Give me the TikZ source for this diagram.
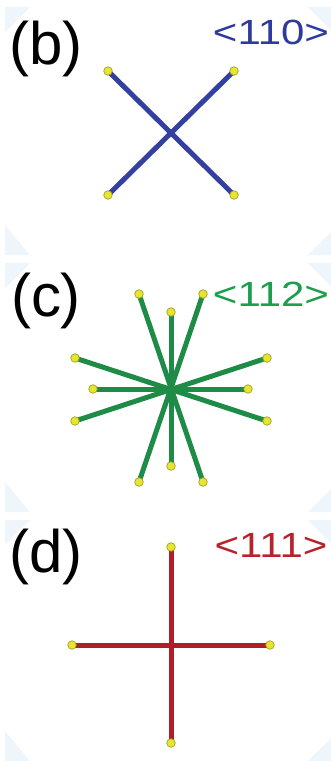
\documentclass[tikz,border=0pt]{standalone}
\usepackage{fontspec}
\setmainfont{Liberation Sans}
\usepackage{graphicx}
\definecolor{cblue}{HTML}{3340A2}
\definecolor{lblue}{HTML}{2E3A9E}
\definecolor{cgreen}{HTML}{1E8C46}
\definecolor{lgreen}{HTML}{1C9E4C}
\definecolor{cred}{HTML}{B01E2A}
\definecolor{lred}{HTML}{B8222C}
\definecolor{dotyel}{HTML}{E8E62C}
\definecolor{dotedge}{HTML}{A0A028}
\definecolor{corner}{HTML}{EEF6FC}
\tikzset{
  dot/.style={circle,fill=dotyel,draw=dotedge,line width=0.7pt,inner sep=0pt,minimum size=8.5pt},
  rod/.style={line width=5pt},
  panellabel/.style={inner sep=0pt,font=\fontsize{60}{60}\selectfont},
  dirlabel/.style={inner sep=0pt,font=\fontsize{35}{35}\selectfont},
  cornerfill/.style={fill=corner,draw=none}
}
\begin{document}
\begin{tikzpicture}[x=1pt,y=-1pt]
\useasboundingbox (0,0) rectangle (331,761);
\fill[white] (0,0) rectangle (331,761);
% corner tints
\foreach \t/\b in {7/255,263/512,520/761}{
  \fill[cornerfill] (5,\t) -- (30,\t) -- (5,\t+25) -- cycle;
  \fill[cornerfill] (331,\t) -- (308,\t) -- (331,\t+23) -- cycle;
  \fill[cornerfill] (5,\b) -- (30,\b) -- (5,\b-30) -- cycle;
  \fill[cornerfill] (331,\b) -- (308,\b) -- (331,\b-23) -- cycle;
}
% ---------- panel (b) ----------
\node[panellabel] (lb) at (46,49) {(b)};
\node[dirlabel,text=lblue] (db) at (271,32) {\scalebox{1.2}[1]{<110>}};
\coordinate (b0) at (171,133);
\coordinate (b1) at (108,71);
\coordinate (b2) at (234,71);
\coordinate (b3) at (108,195);
\coordinate (b4) at (234,195);
\draw[rod,cblue] (b1) -- (b4);
\draw[rod,cblue] (b2) -- (b3);
\foreach \p in {b1,b2,b3,b4} \node[dot] (n\p) at (\p) {};
% ---------- panel (c) ----------
\node[panellabel] (lc) at (46,301) {(c)};
\node[dirlabel,text=lgreen] (dc) at (271,294) {\scalebox{1.2}[1]{<112>}};
\coordinate (c0) at (171,388);
\coordinate (c1) at (139,294);
\coordinate (c2) at (203,294);
\coordinate (c3) at (171,312);
\coordinate (c4) at (171,466);
\coordinate (c5) at (139,482);
\coordinate (c6) at (203,482);
\coordinate (c7) at (75,358);
\coordinate (c8) at (93,389);
\coordinate (c9) at (75,421);
\coordinate (c10) at (267,358);
\coordinate (c11) at (248,389);
\coordinate (c12) at (267,421);
\draw[rod,cgreen] (c1) -- (c6);
\draw[rod,cgreen] (c2) -- (c5);
\draw[rod,cgreen] (c3) -- (c4);
\draw[rod,cgreen] (c7) -- (c12);
\draw[rod,cgreen] (c8) -- (c11);
\draw[rod,cgreen] (c9) -- (c10);
\foreach \p in {c1,c2,c3,c4,c5,c6,c7,c8,c9,c10,c11,c12} \node[dot] (n\p) at (\p) {};
% ---------- panel (d) ----------
\node[panellabel] (ld) at (46,557) {(d)};
\node[dirlabel,text=lred] (dd) at (271,545) {\scalebox{1.2}[1]{<111>}};
\coordinate (d0) at (171,645);
\coordinate (d1) at (171,547);
\coordinate (d2) at (171,743);
\coordinate (d3) at (72,645);
\coordinate (d4) at (270,645);
\draw[rod,cred] (d1) -- (d2);
\draw[rod,cred] (d3) -- (d4);
\foreach \p in {d1,d2,d3,d4} \node[dot] (n\p) at (\p) {};
\end{tikzpicture}
\end{document}
